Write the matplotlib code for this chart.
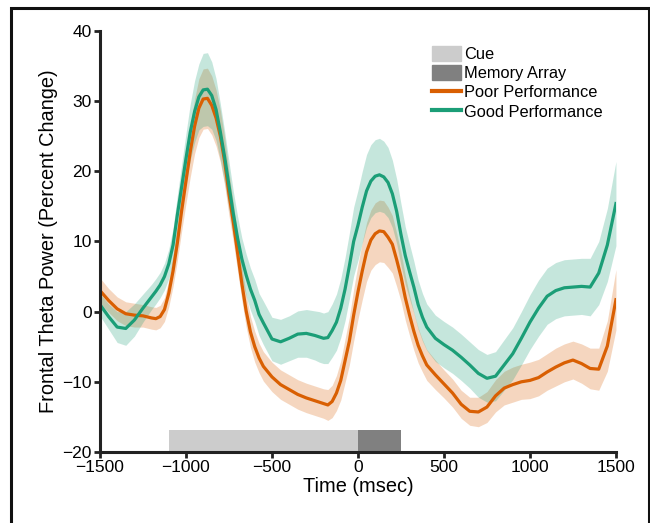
import matplotlib
matplotlib.use('agg')
import matplotlib.pyplot as plt
import numpy as np
from matplotlib.patches import Patch, Rectangle
from matplotlib.lines import Line2D

plt.rcParams['font.family'] = ['Liberation Sans', 'DejaVu Sans']

# time axis (msec): 25 msec readings in the steep parts, 50 msec elsewhere
time = (list(range(-1500, -1199, 50)) + list(range(-1175, -549, 25)) +
        list(range(-500, -249, 50)) + list(range(-225, 401, 25)) +
        list(range(450, 1501, 50)))

poor_mean = [3.0, 1.6, 0.4, -0.3, -0.5, -0.6, -0.9,
             -1.0, -0.7, 0.3, 2.6, 5.8, 9.8, 14.4, 18.6, 22.8, 26.4, 29.0, 30.3, 30.4,
             29.4, 27.6, 25.0, 21.4, 16.8, 12.8, 8.4, 4.0, 0.1, -2.9, -5.0, -6.6, -7.8,
             -9.3, -10.4, -11.1, -11.8, -12.3, -12.7,
             -12.9, -13.1, -13.3, -12.8, -11.6, -9.8, -7.0, -4.2, -0.5, 2.8, 5.8, 8.5,
             10.2, 11.1, 11.5, 11.4, 10.6, 9.6, 7.4, 5.0, 2.0, -0.5, -2.8, -4.8, -6.3, -7.6,
             -9.0, -10.3, -11.6, -13.2, -14.2, -14.3, -13.6, -12.0, -10.9, -10.4, -10.0,
             -9.8, -9.4, -8.6, -7.9, -7.3, -6.9, -7.4, -8.1, -8.2, -4.9, 1.7]
poor_err = [1.8, 1.7, 1.7, 1.7, 1.7, 1.6, 1.6,
            1.6, 1.6, 1.7, 1.9, 2.2, 2.5, 2.9, 3.2, 3.6, 3.9, 4.2, 4.3, 4.3,
            4.2, 4.0, 3.7, 3.4, 3.1, 2.8, 2.6, 2.4, 2.3, 2.2, 2.2, 2.1, 2.1,
            2.1, 2.1, 2.1, 2.1, 2.1, 2.1,
            2.1, 2.1, 2.2, 2.3, 2.5, 2.8, 3.1, 3.4, 3.7, 3.9, 4.1, 4.2,
            4.3, 4.4, 4.4, 4.4, 4.3, 4.1, 3.8, 3.5, 3.2, 2.9, 2.7, 2.5, 2.3, 2.2,
            2.1, 2.0, 2.0, 2.0, 2.0, 2.1, 2.2, 2.3, 2.4, 2.5, 2.5,
            2.6, 2.6, 2.6, 2.7, 2.7, 2.7, 2.8, 2.9, 3.0, 3.6, 4.3]

good_mean = [1.0, -0.7, -2.2, -2.4, -1.2, 0.5, 2.1,
             2.9, 3.8, 5.0, 6.8, 9.5, 13.8, 17.8, 21.8, 25.6, 28.5, 30.6, 31.6, 31.7,
             30.8, 28.8, 25.6, 22.0, 18.0, 14.0, 10.5, 7.5, 5.2, 3.2, 1.6, -0.4, -1.6,
             -3.9, -4.3, -3.8, -3.2, -3.1, -3.4,
             -3.6, -3.8, -3.7, -2.7, -1.5, 0.5, 3.2, 6.5, 10.0, 12.3, 14.9, 17.2,
             18.6, 19.3, 19.5, 19.2, 18.4, 16.8, 14.3, 11.0, 8.0, 5.7, 3.5, 1.0, -0.8, -2.2,
             -3.8, -4.7, -5.5, -6.5, -7.6, -8.8, -9.5, -9.2, -7.6, -6.0, -3.8,
             -1.5, 0.5, 2.2, 3.0, 3.4, 3.5, 3.6, 3.5, 5.5, 9.5, 15.4]
good_err = [1.6, 1.8, 2.2, 2.4, 2.3, 2.0, 1.8,
            1.8, 1.8, 1.9, 2.1, 2.4, 2.8, 3.2, 3.6, 4.0, 4.4, 4.7, 5.2, 5.2,
            4.8, 4.4, 4.0, 3.7, 3.4, 3.2, 3.1, 3.0, 3.0, 3.0, 3.0, 3.0, 3.1,
            3.1, 3.2, 3.2, 3.3, 3.4, 3.5,
            3.6, 3.6, 3.7, 3.8, 4.0, 4.2, 4.5, 4.7, 4.9, 5.0, 5.1, 5.2,
            5.2, 5.2, 5.2, 5.1, 5.0, 4.8, 4.6, 4.4, 4.1, 3.9, 3.7, 3.5, 3.4, 3.3,
            3.3, 3.3, 3.3, 3.3, 3.3, 3.4, 3.4, 3.5, 3.6, 3.7, 3.8,
            3.9, 4.0, 4.0, 4.0, 4.0, 4.0, 4.0, 4.1, 4.5, 5.2, 6.0]

cue_on, cue_off = -1100, 0
array_on, array_off = 0, 250

poor_color = '#d95f02'
good_color = '#1b9e77'

fig = plt.figure(figsize=(6.5, 5.23), dpi=100)
ax = fig.add_axes([0.1538, 0.1358, 0.7938, 0.805])

t = np.array(time)
for mean, err, color in [(poor_mean, poor_err, poor_color), (good_mean, good_err, good_color)]:
    m = np.array(mean)
    e = np.array(err)
    ax.fill_between(t, m - e, m + e, color=color, alpha=0.25, lw=0)
for mean, color in [(poor_mean, poor_color), (good_mean, good_color)]:
    ax.plot(t, mean, color=color, lw=2.3, solid_joinstyle='round')

ax.bar(cue_on, 3.1, width=cue_off - cue_on, bottom=-20, align='edge', color='#cccccc')
ax.bar(array_on, 3.1, width=array_off - array_on, bottom=-20, align='edge', color='#808080')

ax.set_xlim(-1500, 1500)
ax.set_ylim(-20, 40)
ax.set_xticks([-1500, -1000, -500, 0, 500, 1000, 1500])
ax.set_yticks([-20, -10, 0, 10, 20, 30, 40])
ax.set_xticklabels(['\u22121500', '\u22121000', '\u2212500', '0', '500', '1000', '1500'])
ax.set_yticklabels(['\u221220', '\u221210', '0', '10', '20', '30', '40'])
for s in ['top', 'right']:
    ax.spines[s].set_visible(False)
for s in ['left', 'bottom']:
    ax.spines[s].set_linewidth(2.2)
    ax.spines[s].set_color('#222222')
ax.tick_params(direction='out', length=4, width=2, color='#222222', labelsize=12.5, pad=2)
ax.set_xlabel('Time (msec)', fontsize=14.4, labelpad=1)
ax.set_ylabel('Frontal Theta Power (Percent Change)', fontsize=14.4, labelpad=3)

handles = [Patch(color='#cccccc'), Patch(color='#808080'),
           Line2D([], [], color=poor_color, lw=3), Line2D([], [], color=good_color, lw=3)]
labels = ['Cue', 'Memory Array', 'Poor Performance', 'Good Performance']
ax.legend(handles, labels, loc='upper left', bbox_to_anchor=(0.627, 0.984), frameon=False,
          fontsize=11.8, handlelength=1.8, handleheight=1.0, handletextpad=0.15,
          labelspacing=0.2, borderpad=0)

fig.patches.append(Rectangle((0.0169, -0.1), 0.9815, 0.1 + 0.9847, transform=fig.transFigure,
                             fill=False, edgecolor='#111111', lw=2.2))

plt.savefig('out.png', dpi=100)
plt.close()
